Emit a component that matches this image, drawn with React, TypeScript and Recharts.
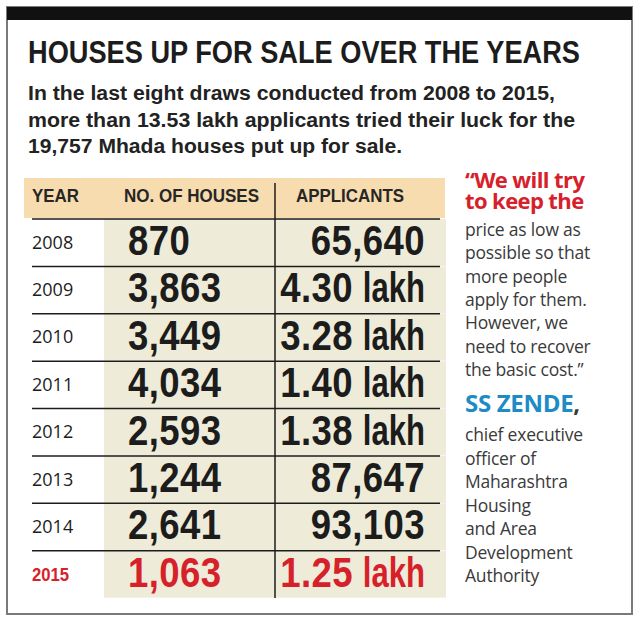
import { BarChart, Bar, XAxis, YAxis } from "recharts";

// table values
const years = ["2008", "2009", "2010", "2011", "2012", "2013", "2014", "2015"];
const houses = [870, 3863, 3449, 4034, 2593, 1244, 2641, 1063];
const applicants = [65640, 430000, 328000, 140000, 138000, 87647, 93103, 125000];
const highlightYear = "2015";

// texts
const title = "HOUSES UP FOR SALE OVER THE YEARS";
const introLines = [
  "In the last eight draws conducted from 2008 to 2015,",
  "more than 13.53 lakh applicants tried their luck for the",
  "19,757 Mhada houses put up for sale.",
];
const headers = ["YEAR", "NO. OF HOUSES", "APPLICANTS"];
const quoteLead = ["\u201CWe will try", "to keep the"];
const quoteBody = [
  "price as low as",
  "possible so that",
  "more people",
  "apply for them.",
  "However, we",
  "need to recover",
  "the basic cost.\u201D",
];
const speaker = "SS ZENDE";
const speakerRole = [
  "chief executive",
  "officer of",
  "Maharashtra",
  "Housing",
  "and Area",
  "Development",
  "Authority",
];

const rows = years.map((year, i) => ({
  year,
  houses: houses[i],
  applicants: applicants[i],
}));

const RED = "#d6212b";
const BLUE = "#1d8bc6";
const INK = "#1c1c1c";
const GREY = "#3a3a3a";
// no condensed face installed: Liberation Sans squeezed horizontally
const GROTESK = "'Liberation Sans', Arial, sans-serif";
const HUMANIST = "'Open Sans', 'Noto Sans', sans-serif";

// squeezed bold text, anchored at (x, y)
const Squeezed = ({ x, y, sx, size, fill, anchor = "start", spacing = 0, children }: any) => (
  <text
    transform={`translate(${x},${y}) scale(${sx},1)`}
    textAnchor={anchor}
    fontFamily={GROTESK}
    fontWeight={700}
    fontSize={size}
    letterSpacing={spacing}
    fill={fill}>
    {children}
  </text>
);

const YearTick = ({ y, payload }: any) => {
  const hot = payload.value === highlightYear;
  if (hot)
    return (
      <Squeezed x={12} y={y + 6.5} sx={0.88} size={19} fill={RED}>
        {payload.value}
      </Squeezed>
    );
  return (
    <text x={12} y={y + 6} fontFamily={HUMANIST} fontSize={18} fill={INK}>
      {payload.value}
    </text>
  );
};

const RowShape = (props: any) => {
  const { y, height, payload } = props;
  const hot = payload.year === highlightYear;
  const base = y + height / 2 + 12.5;
  const color = hot ? RED : INK;
  const a = payload.applicants;
  return (
    <g>
      <line x1={12} x2={420} y1={y} y2={y} stroke={INK} strokeWidth={1.5} />
      <Squeezed x={108} y={base} sx={0.87} size={42} spacing={0.5} fill={color}>
        {payload.houses.toLocaleString("en-US")}
      </Squeezed>
      {a >= 100000 ? (
        <>
          <Squeezed x={405} y={base} sx={0.74} size={42} anchor="end" fill={color}>
            lakh
          </Squeezed>
          <Squeezed x={333} y={base} sx={0.87} size={42} anchor="end" spacing={0.5} fill={color}>
            {(a / 100000).toFixed(2)}
          </Squeezed>
        </>
      ) : (
        <Squeezed x={405} y={base} sx={0.87} size={42} anchor="end" spacing={0.5} fill={color}>
          {a.toLocaleString("en-US")}
        </Squeezed>
      )}
    </g>
  );
};

export default function App() {
  return (
    <div
      style={{
        position: "absolute",
        left: 0,
        top: 0,
        width: 640,
        height: 627,
        background: "#fff",
      }}>
      {/* frame, headline and side quote */}
      <svg
        width={640}
        height={627}
        style={{ position: "absolute", left: 0, top: 0 }}>
        <rect x={7} y={7} width={625} height={607} fill="#fff" stroke="#7a7a7a" strokeWidth={2} />
        <rect x={7} y={7} width={625} height={13} fill="#111" />

        <Squeezed x={28} y={63} sx={0.85} size={32} fill={INK}>
          {title}
        </Squeezed>
        {introLines.map((line, i) => (
          <text
            key={i}
            x={28}
            y={100 + i * 26.5}
            fontFamily={GROTESK}
            fontWeight={700}
            fontSize={20}
            textLength={[527, 547, 374][i]}
            lengthAdjust="spacingAndGlyphs"
            fill="#222">
            {line}
          </text>
        ))}

        {/* table header */}
        <rect x={24} y={178} width={421} height={40} fill="#f6dcae" />
        {headers.map((h, i) => (
          <text
            key={h}
            x={[32, 124, 296][i]}
            y={202}
            fontFamily={GROTESK}
            fontWeight={700}
            fontSize={18}
            textLength={[47, 135, 108][i]}
            lengthAdjust="spacingAndGlyphs"
            fill="#262626">
            {h}
          </text>
        ))}

        {/* quote */}
        <text
          x={465}
          y={188}
          fontFamily={HUMANIST}
          fontWeight={700}
          fontSize={22}
          letterSpacing={-0.6}
          fill={RED}>
          {quoteLead.map((line, i) => (
            <tspan key={i} x={465} dy={i === 0 ? 0 : 21}>
              {line}
            </tspan>
          ))}
        </text>
        {quoteBody.map((line, i) => (
          <text
            key={i}
            x={465}
            y={236 + i * 23.3}
            fontFamily={HUMANIST}
            fontSize={17.5}
            letterSpacing={-0.2}
            fill={GREY}>
            {line}
          </text>
        ))}
        <text x={465} y={412} fontFamily={HUMANIST} fontWeight={700} fontSize={24} letterSpacing={-0.3} fill={BLUE}>
          {speaker}
          <tspan fill={GREY}>,</tspan>
        </text>
        {speakerRole.map((line, i) => (
          <text
            key={i}
            x={465}
            y={441 + i * 23.5}
            fontFamily={HUMANIST}
            fontSize={17.5}
            letterSpacing={-0.2}
            fill={GREY}>
            {line}
          </text>
        ))}
      </svg>

      {/* table rows */}
      <div style={{ position: "absolute", left: 20, top: 178 }}>
        <BarChart
          layout="vertical"
          width={440}
          height={420}
          data={rows}
          margin={{ top: 41, right: 14, bottom: 0, left: 0 }}
          barCategoryGap={0}>
          <XAxis type="number" hide domain={[0, "dataMax"]} />
          <YAxis
            type="category"
            dataKey="year"
            width={84}
            axisLine={false}
            tickLine={false}
            interval={0}
            tick={(p: any) => <YearTick {...p} />}
          />
          <Bar
            dataKey="houses"
            background={{ fill: "#eeecd9" }}
            shape={(p: any) => <RowShape {...p} />}
            isAnimationActive={false}
          />
        </BarChart>
      </div>

      {/* column divider */}
      <svg
        width={640}
        height={627}
        style={{ position: "absolute", left: 0, top: 0, pointerEvents: "none" }}>
        <line x1={275} x2={275} y1={183} y2={598} stroke={INK} strokeWidth={1.5} />
      </svg>
    </div>
  );
}
